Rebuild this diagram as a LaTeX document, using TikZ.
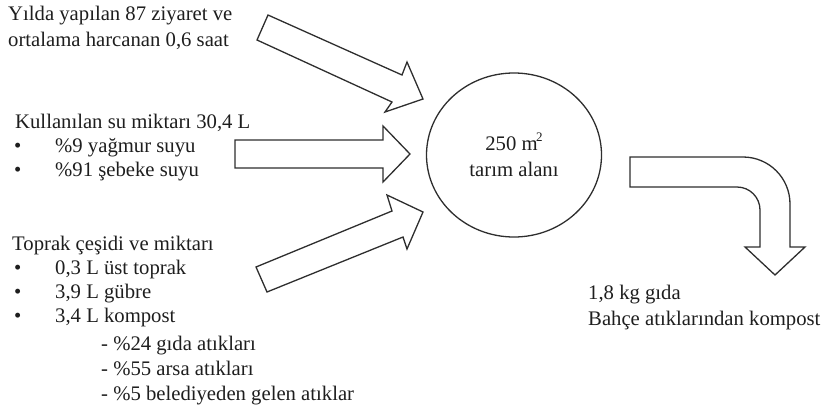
\documentclass[tikz,border=0pt]{standalone}
\usepackage{fontspec}
\setmainfont{Liberation Serif}
\usetikzlibrary{shapes.geometric}
\definecolor{ink}{HTML}{1E1E1E}
\definecolor{edge}{HTML}{2E2E2E}
\newcommand{\supsq}{\kern-1.5pt\raisebox{0.42em}{\fontsize{13}{13}\selectfont 2}}
\tikzset{
  txt/.style={anchor=base west, inner sep=0pt, text=ink,
              font=\fontsize{20.7}{24}\selectfont},
  blockarrow/.style={draw=edge, line width=1.3pt, line join=miter, fill=white},
  field/.style={ellipse, draw=edge, line width=1.3pt, align=center,
                minimum width=175pt, minimum height=164pt, inner sep=0pt,
                text=ink, font=\fontsize{20.7}{26}\selectfont}
}
\begin{document}
\begin{tikzpicture}[x=1pt,y=-1pt]
\useasboundingbox (0,0) rectangle (826,410);

% central plot
\node[field] (plot) at (514,155) {250 m\supsq\\tarım alanı};

% inputs: visits
\node[txt] (v1) at (8,20) {Yılda yapılan 87 ziyaret ve};
\node[txt] (v2) at (8,46) {ortalama harcanan 0,6 saat};

% inputs: water
\node[txt] (w0) at (15,128) {Kullanılan su miktarı 30,4 L};
\node[txt] (wb1) at (14,152) {•};
\node[txt] (w1) at (55,152) {\%9 yağmur suyu};
\node[txt] (wb2) at (14,176) {•};
\node[txt] (w2) at (55,176) {\%91 şebeke suyu};

% inputs: soil
\node[txt] (s0) at (12,250) {Toprak çeşidi ve miktarı};
\node[txt] (sb1) at (14,274) {•};
\node[txt] (s1) at (55,274) {0,3 L üst toprak};
\node[txt] (sb2) at (14,298) {•};
\node[txt] (s2) at (55,298) {3,9 L gübre};
\node[txt] (sb3) at (14,322) {•};
\node[txt] (s3) at (55,322) {3,4 L kompost};
\node[txt] (c1) at (101,350) {- \%24 gıda atıkları};
\node[txt] (c2) at (101,375) {- \%55 arsa atıkları};
\node[txt] (c3) at (101,400) {- \%5 belediyeden gelen atıklar};

% outputs
\node[txt] (o1) at (588,299) {1,8 kg gıda};
\node[txt] (o2) at (588,325) {Bahçe atıklarından kompost};

% block arrows into the plot
\draw[blockarrow] (268,15) -- (402,75) -- (407,62) -- (423,99)
  -- (385,112) -- (392,102) -- (257,40) -- cycle;
\draw[blockarrow] (235,140) -- (383,140) -- (383,126) -- (410,154)
  -- (383,182) -- (383,168) -- (235,168) -- cycle;
\draw[blockarrow] (256,267) -- (392,211) -- (387,195) -- (423,212)
  -- (407,249) -- (403,237) -- (267,292) -- cycle;

% bent block arrow out of the plot
\draw[blockarrow] (630,157) [rounded corners=47pt] -- (790,157)
  [sharp corners] -- (790,247) -- (805,247) -- (775,275) -- (745,247)
  -- (760,247) [rounded corners=23pt] -- (760,187)
  [sharp corners] -- (630,187) -- cycle;
\end{tikzpicture}
\end{document}
